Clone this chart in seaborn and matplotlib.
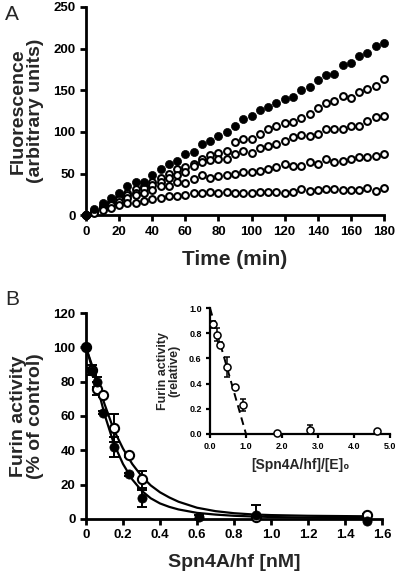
import matplotlib
matplotlib.use("Agg")
import matplotlib.pyplot as plt
import numpy as np
import pandas as pd
import seaborn as sns

# ---- Panel A: fluorescence time courses ----
time_min = list(range(0, 181, 5))
fl_control = [0, 7, 14, 20, 27, 35, 40, 40, 48, 55, 61, 65, 73, 76, 85, 89, 95, 100, 107,
              115, 119, 126, 130, 135, 139, 142, 150, 154, 162, 168, 169, 180, 183, 191,
              195, 203, 207]
fl_open1 = [0, 5, 11, 16, 22, 27, 31, 35, 40, 44, 49, 55, 58, 62, 67, 72, 75, 77, 88,
            91, 91, 98, 104, 107, 111, 112, 117, 122, 129, 135, 137, 143, 141, 148, 151,
            155, 163]
fl_open2 = [0, 5, 10, 14, 19, 24, 27, 32, 36, 40, 44, 48, 52, 59, 64, 66, 67, 68, 73,
            77, 75, 81, 83, 86, 89, 94, 96, 95, 97, 104, 104, 104, 107, 107, 113, 118, 119]
fl_open3 = [0, 4, 8, 12, 16, 21, 24, 27, 30, 35, 35, 40, 39, 43, 48, 44, 47, 48, 50,
            52, 52, 53, 55, 58, 61, 59, 59, 64, 61, 68, 64, 65, 67, 70, 70, 71, 73]
fl_open4 = [0, 3, 6, 9, 12, 14, 15, 17, 19, 20, 23, 23, 24, 26, 26, 28, 27, 28, 27,
            27, 27, 28, 28, 28, 27, 28, 31, 29, 30, 31, 31, 30, 30, 30, 32, 29, 32]

# ---- Panel B: inhibition curves ----
conc_filled = [0, 0.03, 0.06, 0.09, 0.15, 0.23, 0.30, 0.61, 0.92, 1.52]
act_filled = [100, 86, 80, 62, 42, 26, 12, 1, 2, -1]
err_filled = [0, 2, 3, 1, 6, 1, 5, 1, 6, 1]
conc_open = [0, 0.03, 0.06, 0.09, 0.15, 0.23, 0.30, 0.92, 1.52]
act_open = [100, 87, 76, 72, 53, 37, 23, 1, 2]
err_open = [0, 3, 4, 1, 8, 1, 5, 1, 1]

fit_x = [0, 0.05, 0.1, 0.15, 0.2, 0.25, 0.3, 0.35, 0.4, 0.45, 0.5, 0.6, 0.7, 0.8,
         0.9, 1.0, 1.2, 1.52]
fit_filled = [100, 82, 61, 44, 32, 23, 16.5, 12, 9, 7, 5.5, 3.5, 2.5, 1.8, 1.4, 1.1,
              0.7, 0.4]
fit_open = [100, 84, 67, 52, 41, 32, 25, 19.5, 15.5, 12.5, 10, 6.5, 4.5, 3.3, 2.6,
            2.2, 1.8, 1.5]

# ---- Inset: titration ----
ratio = [0.09, 0.2, 0.28, 0.46, 0.7, 0.92, 1.86, 2.78, 4.63]
rel_act = [0.87, 0.79, 0.71, 0.53, 0.37, 0.23, 0.01, 0.03, 0.02]
rel_err = [0.03, 0.05, 0.02, 0.08, 0.01, 0.05, 0.0, 0.04, 0.0]
line_x = [0.0, 1.0]
line_y = [1.0, 0.0]

sns.set_style("ticks")
plt.rcParams['font.family'] = ['Liberation Sans', 'DejaVu Sans']
plt.rcParams['font.weight'] = 'bold'
plt.rcParams['axes.linewidth'] = 2.0
plt.rcParams['xtick.major.width'] = 2.0
plt.rcParams['ytick.major.width'] = 2.0
plt.rcParams['xtick.major.size'] = 4
plt.rcParams['ytick.major.size'] = 4
plt.rcParams['xtick.color'] = 'black'
plt.rcParams['ytick.color'] = 'black'
plt.rcParams['axes.edgecolor'] = 'black'

fig = plt.figure(figsize=(4.0, 5.83), dpi=100)

def style_axis(ax, size):
    sns.despine(ax=ax)
    for lab in ax.get_xticklabels() + ax.get_yticklabels():
        lab.set_fontweight('bold')
        lab.set_fontsize(size)

# Panel A
axA = fig.add_axes([0.215, 0.631, 0.745, 0.357])
open_series = [fl_open1, fl_open2, fl_open3, fl_open4]
for vals in open_series:
    sns.scatterplot(x=time_min, y=vals, ax=axA, s=24, facecolor='white',
                    edgecolor='black', linewidth=1.5, zorder=3, clip_on=False)
sns.scatterplot(x=time_min, y=fl_control, ax=axA, s=34, color='black',
                edgecolor='black', linewidth=0.5, zorder=4, clip_on=False)
axA.set_xlim(0, 180)
axA.set_ylim(0, 250)
axA.set_xticks(range(0, 181, 20))
axA.set_yticks(range(0, 251, 50))
axA.set_xlabel('Time (min)', fontsize=15, fontweight='bold', labelpad=9)
axA.set_ylabel('Fluorescence\n(arbitrary units)', fontsize=14, fontweight='bold',
               labelpad=7, linespacing=1.0)
style_axis(axA, 9.5)
fig.text(0.012, 0.975, 'A', fontsize=15, fontweight='normal', va='center')

# Panel B
axB = fig.add_axes([0.215, 0.110, 0.74, 0.353])
sns.lineplot(x=fit_x, y=fit_filled, ax=axB, color='black', linewidth=1.6)
sns.lineplot(x=fit_x, y=fit_open, ax=axB, color='black', linewidth=1.6)
axB.errorbar(conc_filled, act_filled, yerr=err_filled, fmt='none', ecolor='black',
             elinewidth=1.4, capsize=3.5, capthick=1.4, zorder=2)
axB.errorbar(conc_open, act_open, yerr=err_open, fmt='none', ecolor='black',
             elinewidth=1.4, capsize=3.5, capthick=1.4, zorder=2)
sns.scatterplot(x=conc_open, y=act_open, ax=axB, s=44, facecolor='white',
                edgecolor='black', linewidth=1.5, zorder=4, clip_on=False)
sns.scatterplot(x=conc_filled, y=act_filled, ax=axB, s=44, color='black',
                edgecolor='black', linewidth=0.5, zorder=5, clip_on=False)
axB.set_xlim(0, 1.6)
axB.set_ylim(0, 120)
axB.set_xticks(np.arange(0, 1.61, 0.2))
axB.set_xticklabels(['0', '0.2', '0.4', '0.6', '0.8', '1.0', '1.2', '1.4', '1.6'])
axB.set_yticks(range(0, 121, 20))
axB.set_xlabel('Spn4A/hf [nM]', fontsize=14, fontweight='bold', labelpad=9)
axB.set_ylabel('Furin activity\n(% of control)', fontsize=14, fontweight='bold',
               labelpad=7, linespacing=1.0)
style_axis(axB, 9.5)
fig.text(0.012, 0.487, 'B', fontsize=15, fontweight='normal', va='center')

# Inset
axI = fig.add_axes([0.525, 0.2556, 0.45, 0.216])
axI.patch.set_alpha(0)
sns.lineplot(x=line_x, y=line_y, ax=axI, color='black', linewidth=1.4,
             linestyle=(0, (4, 2.5)))
axI.errorbar(ratio, rel_act, yerr=rel_err, fmt='none', ecolor='black',
             elinewidth=1.1, capsize=2.5, capthick=1.1, zorder=2)
sns.scatterplot(x=ratio, y=rel_act, ax=axI, s=26, facecolor='white',
                edgecolor='black', linewidth=1.1, zorder=4, clip_on=False)
axI.set_xlim(0, 5.0)
axI.set_ylim(0, 1.0)
axI.set_xticks(np.arange(0, 5.01, 1.0))
axI.set_xticklabels(['0.0', '1.0', '2.0', '3.0', '4.0', '5.0'])
axI.set_yticks(np.arange(0, 1.01, 0.2))
axI.set_yticklabels(['0.0', '0.2', '0.4', '0.6', '0.8', '1.0'])
axI.tick_params(width=1.6, length=3, pad=3)
for sp in axI.spines.values():
    sp.set_linewidth(1.6)
axI.set_xlabel('[Spn4A/hf]/[E]\u2080', fontsize=10, fontweight='bold', labelpad=5)
axI.set_ylabel('Furin activity\n(relative)', fontsize=9, fontweight='bold',
               labelpad=6, linespacing=1.0)
style_axis(axI, 6.5)

fig.savefig('out.png', dpi=100)
